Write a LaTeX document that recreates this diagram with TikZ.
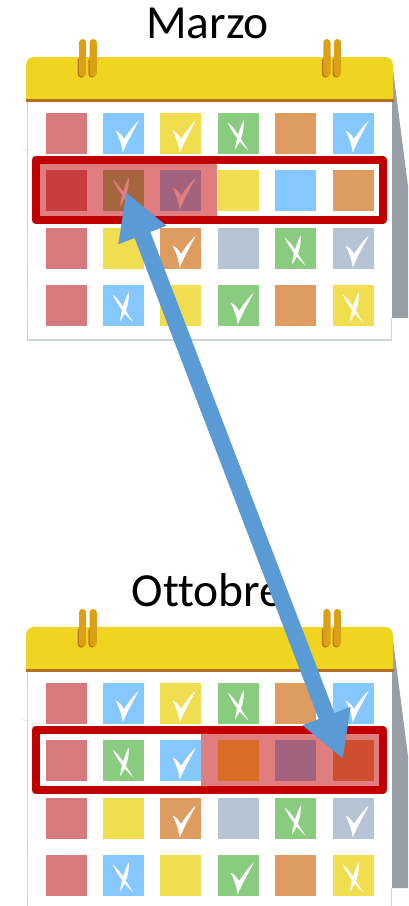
\documentclass[tikz,border=0pt]{standalone}
\usepackage{fontspec}
\setmainfont[Ligatures=NoCommon]{Carlito}
\usetikzlibrary{arrows.meta}
\definecolor{cPink}{HTML}{D67A7E}
\definecolor{cBlue}{HTML}{85C7FF}
\definecolor{cYel}{HTML}{F1DE50}
\definecolor{cGreen}{HTML}{8ACC7F}
\definecolor{cOrange}{HTML}{DE9C61}
\definecolor{cGray}{HTML}{B7C4D3}
\definecolor{cOver}{HTML}{E07D7F}
\definecolor{cFrame}{HTML}{C00000}
\definecolor{cHead}{HTML}{EFD51F}
\definecolor{cHeadLine}{HTML}{B46F24}
\definecolor{cRing}{HTML}{DCA016}
\definecolor{cRingDark}{HTML}{B97B1C}
\definecolor{cShadow}{HTML}{989FA6}
\definecolor{cEdge}{HTML}{CDD3DA}
\definecolor{cArrow}{HTML}{5B9BD5}
\definecolor{cRed}{HTML}{C93D40}
\definecolor{cBrown}{HTML}{A5653F}
\definecolor{cPurple}{HTML}{A3627D}
\definecolor{cDeepOr}{HTML}{D96C26}
\definecolor{cRust}{HTML}{CE4F2E}
\def\ckpath{(12.7,17.7) .. controls (16,19) and (19,22) .. (21,26) .. controls (25,20) and (30,13) .. (35.7,7.7) .. controls (31,17) and (24,29) .. (19.7,39.7) .. controls (18.5,31) and (16,24) .. cycle}
\def\xpath{(9.7,9.5) .. controls (17,15) and (24,28) .. (30.5,37.5) .. controls (23,31) and (15,21) .. cycle (25.7,7) .. controls (26.5,18) and (23,28) .. (17,36.5) .. controls (18,27) and (21,17) .. cycle}
\def\nopath{}
\newcommand\calcell[5]{\begin{scope}[shift={(#1,#2)}]\fill[#3] (0,0) rectangle (41,41);\fill[#5] #4;\end{scope}}
\newcommand\calring[1]{\begin{scope}[shift={(#1,0)}]
  \fill[cRingDark,rounded corners=3.7pt] (77.5,57) rectangle (85,77.7);
  \fill[cRing,rounded corners=3.6pt] (79,39) rectangle (86.2,76.5);
  \fill[cRingDark,rounded corners=3.7pt] (88.3,57) rectangle (95.5,77.7);
  \fill[cRing,rounded corners=3.6pt] (89.5,39) rectangle (96.8,76.5);
\end{scope}}
\newcommand\calbase{%
  \fill[cShadow] (391,70) -- (393,70) -- (408,186) -- (408,318) -- (391,318) -- cycle;
  \fill[white] (27.5,101) rectangle (391.5,340);
  \draw[cEdge,line width=1.6pt] (27.5,101) -- (27.5,340) -- (391.5,340) -- (391.5,318);
  \fill[cEdge!70!white] (21,149) -- (27,150) -- (27,151.2) -- cycle;
  \fill[cHead] (26,100) {[rounded corners=8pt] -- (26,57) -- (393,57)} -- (393,100) -- cycle;
  \fill[cHeadLine] (26,99) rectangle (393.5,101.7);
  \calring{0}\calring{244.3}%
  \calcell{46}{113}{cPink}{\nopath}{white}
  \calcell{103}{113}{cBlue}{\ckpath}{white}
  \calcell{160}{113}{cYel}{\ckpath}{white}
  \calcell{218}{113}{cGreen}{\xpath}{white}
  \calcell{275}{113}{cOrange}{\nopath}{white}
  \calcell{333}{113}{cBlue}{\ckpath}{white}
  \calcell{46}{228}{cPink}{\nopath}{white}
  \calcell{103}{228}{cYel}{\nopath}{white}
  \calcell{160}{228}{cOrange}{\ckpath}{white}
  \calcell{218}{228}{cGray}{\nopath}{white}
  \calcell{275}{228}{cGreen}{\xpath}{white}
  \calcell{333}{228}{cGray}{\ckpath}{white}
  \calcell{46}{285}{cPink}{\nopath}{white}
  \calcell{103}{285}{cBlue}{\xpath}{white}
  \calcell{160}{285}{cYel}{\nopath}{white}
  \calcell{218}{285}{cGreen}{\ckpath}{white}
  \calcell{275}{285}{cOrange}{\nopath}{white}
  \calcell{333}{285}{cYel}{\xpath}{white}
}
\tikzset{
  caltitle/.style={font=\fontsize{47.5}{47.5}\selectfont,text=black,inner sep=0pt,anchor=base},
  calframe/.style={draw=cFrame,line width=8pt,line join=round},
  bigarrow/.style={cArrow,line width=16.8pt,{Triangle[length=46pt,width=48pt]}-{Triangle[length=46pt,width=48pt]}}
}
\begin{document}
\begin{tikzpicture}[x=1pt,y=-1pt]
\useasboundingbox (0,0) rectangle (408,906);
\clip (0,0) rectangle (408,906);
\fill[white] (0,0) rectangle (408,906);
% March
\calbase
\fill[cOver] (39,164) rectangle (217,216);
\calcell{46}{170}{cRed}{\nopath}{white}
\calcell{103}{170}{cBrown}{\xpath}{cOver}
\calcell{160}{170}{cPurple}{\ckpath}{cOver}
\calcell{218}{170}{cYel}{\nopath}{white}
\calcell{275}{170}{cBlue}{\nopath}{white}
\calcell{333}{170}{cOrange}{\nopath}{white}
\draw[calframe] (35.5,160) rectangle (383,220);
\node[caltitle] (marzo) at (207.6,38) {Marzo};
% October
\begin{scope}[shift={(0,570)}]
\calbase
\fill[cOver] (201,164) rectangle (379,216);
\calcell{46}{170}{cPink}{\nopath}{white}
\calcell{103}{170}{cGreen}{\xpath}{white}
\calcell{160}{170}{cBlue}{\ckpath}{white}
\calcell{218}{170}{cDeepOr}{\nopath}{white}
\calcell{275}{170}{cPurple}{\nopath}{white}
\calcell{333}{170}{cRust}{\nopath}{white}
\draw[calframe] (35.5,160) rectangle (383,220);
\node[caltitle] (ottobre) at (207.5,36.7) {Ottobre};
\end{scope}
\coordinate (arrowtop) at (126,192);
\coordinate (arrowbot) at (343,759);
\draw[bigarrow] (arrowtop) -- (arrowbot);
\end{tikzpicture}
\end{document}
